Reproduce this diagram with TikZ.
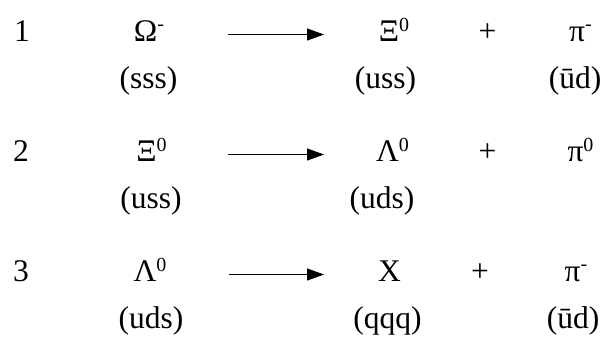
\documentclass[tikz,border=0pt]{standalone}
\usepackage{fontspec}
\setmainfont{Liberation Serif}
\usetikzlibrary{arrows.meta}
\newcommand{\supz}{\raisebox{9.5pt}{\fontsize{20}{20}\selectfont 0}}
\newcommand{\supm}{\raisebox{10.5pt}{\fontsize{20}{20}\selectfont -}}
\tikzset{
  txt/.style={anchor=base,inner sep=0pt,font=\fontsize{31.5}{36}\selectfont},
  react/.style={line width=1.1pt,-{Triangle[length=17pt,width=12pt]}}
}
\begin{document}
\begin{tikzpicture}[x=1pt,y=-1pt]
\useasboundingbox (0,0) rectangle (606,338);
% row 1
\node[txt] (n1) at (22,41) {1};
\node[txt] (p1a) at (149,41) {Ω\supm};
\node[txt] (q1a) at (148.5,88.5) {(sss)};
\coordinate (a1s) at (228,34.5);
\coordinate (a1e) at (324,34.5);
\draw[react] (a1s) -- (a1e);
\node[txt] (p1b) at (394,41) {Ξ\supz};
\node[txt] (q1b) at (385.5,88.5) {(uss)};
\node[txt] (plus1) at (487.5,41) {+};
\node[txt] (p1c) at (580.5,41) {π\supm};
\node[txt] (q1c) at (575,88.5) {(ūd)};
% row 2
\node[txt] (n2) at (21,161) {2};
\node[txt] (p2a) at (151.5,161) {Ξ\supz};
\node[txt] (q2a) at (151,208.5) {(uss)};
\coordinate (a2s) at (228,154.5);
\coordinate (a2e) at (324,154.5);
\draw[react] (a2s) -- (a2e);
\node[txt] (p2b) at (392.5,161) {Λ\supz};
\node[txt] (q2b) at (382,208.5) {(uds)};
\node[txt] (plus2) at (487.5,161) {+};
\node[txt] (p2c) at (580.5,161) {π\supz};
% row 3
\node[txt] (n3) at (21,281) {3};
\node[txt] (p3a) at (150,281) {Λ\supz};
\node[txt] (q3a) at (151,328.5) {(uds)};
\coordinate (a3s) at (229,274.5);
\coordinate (a3e) at (324,274.5);
\draw[react] (a3s) -- (a3e);
\node[txt] (p3b) at (389.5,281) {X};
\node[txt] (q3b) at (387.5,328.5) {(qqq)};
\node[txt] (plus3) at (480,281) {+};
\node[txt] (p3c) at (576,281) {π\supm};
\node[txt] (q3c) at (573,328.5) {(ūd)};
\end{tikzpicture}
\end{document}
